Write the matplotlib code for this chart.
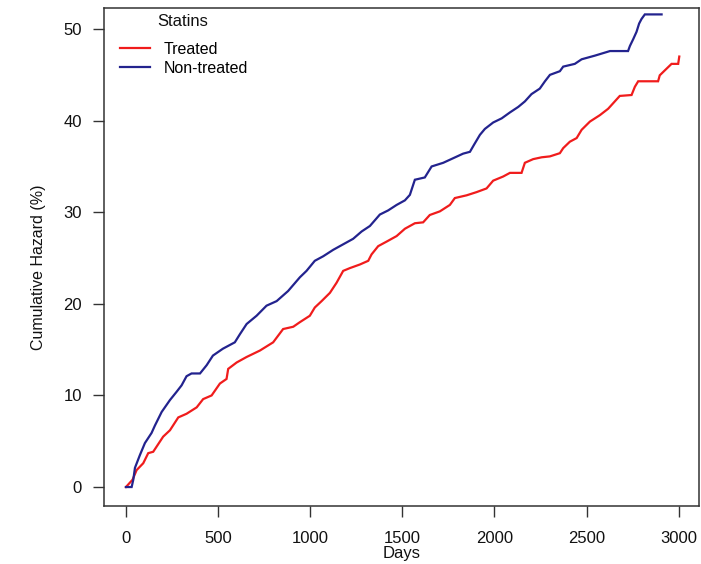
import matplotlib
matplotlib.use('Agg')
import matplotlib.pyplot as plt

plt.rcParams['font.family'] = ['Liberation Sans', 'DejaVu Sans']

# cumulative hazard (%) read at the event days
days_treated = [0, 36, 58, 94, 121, 148, 202, 239, 284, 329, 384, 419, 465,
                510, 546, 555, 601, 655, 727, 799, 853, 908, 944, 998, 1025,
                1062, 1107, 1143, 1179, 1215, 1270, 1315, 1333, 1369, 1415,
                1469, 1514, 1568, 1613, 1649, 1704, 1758, 1785, 1849, 1903,
                1957, 1993, 2047, 2084, 2147, 2165, 2210, 2256, 2301, 2355,
                2373, 2409, 2446, 2473, 2518, 2572, 2617, 2644, 2680, 2744,
                2762, 2780, 2888, 2897, 2925, 2961, 2997, 3003]
haz_treated = [0, 0.8, 1.85, 2.6, 3.7, 3.85, 5.5, 6.2, 7.6, 8.0, 8.7, 9.6,
               10.0, 11.3, 11.8, 12.9, 13.6, 14.2, 14.9, 15.8, 17.25, 17.5,
               18.0, 18.7, 19.6, 20.3, 21.2, 22.3, 23.6, 23.9, 24.3, 24.7,
               25.4, 26.3, 26.8, 27.4, 28.2, 28.8, 28.9, 29.7, 30.1, 30.8,
               31.55, 31.85, 32.2, 32.6, 33.45, 33.9, 34.3, 34.3, 35.4, 35.8,
               36.0, 36.1, 36.45, 37.0, 37.7, 38.1, 39.0, 39.9, 40.6, 41.3,
               41.9, 42.7, 42.8, 43.7, 44.3, 44.3, 44.95, 45.5, 46.2, 46.2,
               47.0]

days_untreated = [0, 31, 40, 49, 76, 103, 139, 157, 194, 239, 275, 302, 329,
                  356, 402, 438, 472, 526, 591, 619, 655, 709, 763, 818, 880,
                  944, 980, 1025, 1071, 1125, 1179, 1233, 1279, 1324, 1378,
                  1423, 1469, 1514, 1541, 1568, 1622, 1659, 1722, 1776, 1830,
                  1867, 1890, 1921, 1948, 1993, 2039, 2084, 2129, 2165, 2201,
                  2246, 2274, 2301, 2355, 2373, 2436, 2473, 2545, 2627, 2725,
                  2735, 2753, 2771, 2785, 2798, 2816, 2907]
haz_untreated = [0, 0, 0.8, 2.1, 3.5, 4.8, 5.9, 6.7, 8.2, 9.5, 10.4, 11.1,
                 12.1, 12.4, 12.4, 13.3, 14.35, 15.1, 15.8, 16.7, 17.8, 18.7,
                 19.8, 20.3, 21.4, 22.9, 23.6, 24.7, 25.2, 25.9, 26.5, 27.1,
                 27.9, 28.5, 29.75, 30.2, 30.8, 31.3, 31.9, 33.55, 33.8, 35.0,
                 35.4, 35.9, 36.4, 36.6, 37.4, 38.45, 39.1, 39.8, 40.25, 40.9,
                 41.5, 42.1, 42.9, 43.5, 44.3, 45.0, 45.4, 45.9, 46.2, 46.7,
                 47.1, 47.6, 47.6, 48.15, 48.9, 49.7, 50.6, 51.1, 51.6, 51.6]

fig = plt.figure(figsize=(7.01, 5.64), dpi=100)
ax = fig.add_axes([104 / 701, 58 / 564, 595 / 701, 498 / 564])

ax.plot(days_treated, haz_treated, color='#f01c1c', lw=1.6,
        solid_joinstyle='miter', label='Treated')
ax.plot(days_untreated, haz_untreated, color='#23238e', lw=1.6,
        solid_joinstyle='miter', label='Non-treated')

ax.set_xlim(-119, 3110)
ax.set_ylim(-2.07, 52.3)
ax.set_xticks([0, 500, 1000, 1500, 2000, 2500, 3000])
ax.set_yticks([0, 10, 20, 30, 40, 50])
ax.tick_params(axis='both', labelsize=12, length=8, width=1, color='#333333',
               labelcolor='#111111')
ax.tick_params(axis='x', pad=10)
ax.tick_params(axis='y', pad=8)
for sp in ax.spines.values():
    sp.set_color('#333333')
    sp.set_linewidth(1.1)

ax.set_xlabel('Days', fontsize=12, color='#111111')
ax.xaxis.set_label_coords(0.5, -0.08)
ax.set_ylabel('Cumulative Hazard (%)', fontsize=11.5, color='#111111')
ax.yaxis.set_label_coords(-0.098, 0.48)

ax.legend(loc='upper left', bbox_to_anchor=(120 / 701, 522 / 564),
          bbox_transform=fig.transFigure, frameon=False,
          fontsize=11.5, handlelength=1.9, handletextpad=0.85,
          labelspacing=0.22, borderpad=0, borderaxespad=0)
fig.text(183 / 701, 1 - 22 / 564, 'Statins', fontsize=12, color='#111111',
         ha='center', va='center')

fig.savefig('out.png', dpi=100)
